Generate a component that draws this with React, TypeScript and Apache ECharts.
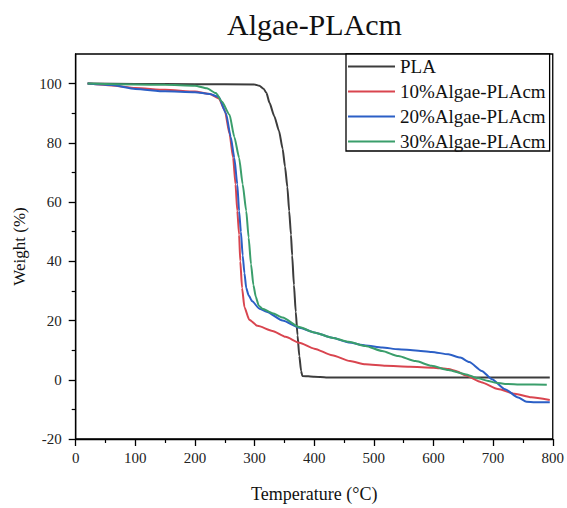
import React, { useEffect, useRef } from 'react';
import * as echarts from 'echarts';

const chartTitle = 'Algae-PLAcm';
const xAxisName = 'Temperature (°C)';
const yAxisName = 'Weight (%)';
const seriesNames = ['PLA', '10%Algae-PLAcm', '20%Algae-PLAcm', '30%Algae-PLAcm'];
const seriesColors = ['#3c3c3c', '#d9454f', '#2b5fc6', '#3a9e6b'];

// [temperature °C, weight %]
const plaData = [
  [20, 100], [100, 99.9], [200, 99.8], [300, 99.7], [308, 99.3], [315, 98.3], [320, 96.8],
  [325, 93.5], [333, 89], [341, 84], [347, 78], [351, 72], [355, 65], [358, 57], [361, 49],
  [363, 42], [366, 32], [369, 23], [372, 15], [375, 8], [378, 3], [380, 1.3], [400, 1.0],
  [420, 0.8], [600, 0.8], [795, 0.8],
];
const pla10Data = [
  [20, 100], [60, 99.4], [100, 98.5], [150, 97.9], [200, 97.3], [225, 96.5], [240, 95],
  [250, 91], [258, 83], [264, 75], [268, 66], [271, 57], [274, 49], [276, 40], [279, 31],
  [283, 24.5], [291, 20.3], [305, 18.2], [330, 16.5], [352, 14.5], [375, 12.5], [400, 10.5],
  [430, 8.3], [460, 6.3], [486, 5.2], [520, 4.7], [560, 4.4], [600, 4.1], [625, 3.6],
  [640, 2.8], [653, 1.5], [680, -0.8], [708, -3.1], [736, -4.7], [764, -5.9], [795, -6.8],
];
const pla20Data = [
  [20, 100], [60, 99.5], [100, 98.2], [150, 97.4], [200, 97.1], [225, 96.5], [240, 95.5],
  [252, 90], [260, 82], [266, 75], [271, 66], [274, 57], [277, 50], [280, 42], [283, 36],
  [286, 31], [290, 28.5], [296, 26.5], [308, 24], [320, 23], [347, 20], [375, 17.6],
  [400, 16], [430, 14.2], [458, 12.6], [486, 11.6], [514, 10.9], [541, 10.3], [570, 9.9],
  [597, 9.4], [625, 8.6], [645, 7.5], [660, 6], [681, 3], [698, 0.2], [720, -3.2],
  [742, -6], [756, -7.4], [770, -7.6], [795, -7.6],
];
const pla30Data = [
  [20, 100], [100, 99.7], [150, 99.6], [200, 99.3], [220, 98.4], [235, 96.8], [245, 94],
  [258, 89.5], [266, 82], [274, 75], [280, 66], [286, 57], [290, 48], [294, 39], [298, 32],
  [302, 28], [307, 25], [313, 24], [330, 22.5], [347, 21], [375, 17.8], [400, 16],
  [430, 14.2], [458, 12.8], [486, 11.4], [514, 9.7], [541, 8], [570, 6.3], [597, 4.7],
  [625, 3.3], [653, 1.9], [675, 0.5], [692, -0.4], [705, -1], [720, -1.4], [750, -1.6],
  [790, -1.7],
];
const allData = [plaData, pla10Data, pla20Data, pla30Data];

const xMin = 0;
const xMax = 800;
const xInterval = 100;
const yMin = -20;
const yMax = 110;
const yMajorValues = [-20, 0, 20, 40, 60, 80, 100];
const yMinorValues = [-10, 10, 30, 50, 70, 90];

const FONT = "'Liberation Serif', 'Times New Roman', serif";

export default function App() {
  const ref = useRef<HTMLDivElement>(null);
  useEffect(() => {
    if (!ref.current) return;
    const chart = echarts.init(ref.current, null, { renderer: 'svg' });
    const axisLine = { show: true, onZero: false, lineStyle: { color: '#000', width: 1.3 } };
    chart.setOption({
      animation: false,
      backgroundColor: '#fff',
      textStyle: { fontFamily: FONT, color: '#000' },
      title: {
        text: chartTitle,
        left: 222,
        top: 4,
        textStyle: { fontFamily: FONT, fontSize: 30, fontWeight: 'normal', color: '#111' },
      },
      grid: {
        left: 75.7,
        right: 12.3,
        top: 54,
        bottom: 68,
        show: true,
        borderColor: '#000',
        borderWidth: 1.3,
        backgroundColor: 'transparent',
      },
      legend: {
        orient: 'vertical',
        left: 346,
        top: 54,
        data: seriesNames.map((n, i) => ({
          name: n,
          icon: 'path://M0,0 L47,0 L47,2 L0,2 Z',
          itemStyle: { color: seriesColors[i] },
        })),
        itemWidth: 47,
        itemHeight: 2,
        itemGap: 6,
        padding: [3, 4, 0, 2],
        borderColor: '#000',
        borderWidth: 1.3,
        backgroundColor: '#fff',
        textStyle: { fontFamily: FONT, fontSize: 19, color: '#111', lineHeight: 19 },
      },
      xAxis: {
        type: 'value',
        min: xMin,
        max: xMax,
        interval: xInterval,
        name: xAxisName,
        nameLocation: 'middle',
        nameGap: 46,
        nameTextStyle: { fontFamily: FONT, fontSize: 18, color: '#111' },
        axisLine,
        axisTick: { show: true, inside: false, length: 7, lineStyle: { color: '#000', width: 1.3 } },
        minorTick: { show: true, splitNumber: 2, length: 4, lineStyle: { color: '#000', width: 1.2 } },
        axisLabel: { fontFamily: FONT, fontSize: 15, color: '#222', margin: 11 },
        splitLine: { show: false },
        minorSplitLine: { show: false },
      },
      yAxis: [
        {
          type: 'value',
          position: 'left',
          min: yMin,
          max: yMax,
          interval: 20,
          name: yAxisName,
          nameLocation: 'middle',
          nameGap: 41,
          nameTextStyle: { fontFamily: FONT, fontSize: 17, color: '#111' },
          axisLine,
          axisTick: {
            show: true,
            length: 7,
            customValues: yMajorValues,
            lineStyle: { color: '#000', width: 1.3 },
          },
          axisLabel: {
            fontFamily: FONT,
            fontSize: 15,
            color: '#222',
            margin: 14,
            customValues: yMajorValues,
          },
          splitLine: { show: false },
        },
        {
          type: 'value',
          position: 'left',
          min: yMin,
          max: yMax,
          interval: 10,
          axisLine: { show: false, onZero: false },
          axisTick: {
            show: true,
            length: 4,
            customValues: yMinorValues,
            lineStyle: { color: '#000', width: 1.2 },
          },
          axisLabel: { show: false },
          splitLine: { show: false },
        },
      ],
      series: allData.map((d, i) => ({
        name: seriesNames[i],
        type: 'line',
        data: d,
        yAxisIndex: 0,
        symbol: 'none',
        showSymbol: false,
        smooth: 0.2,
        smoothMonotone: 'x',
        lineStyle: { color: seriesColors[i], width: 2 },
        itemStyle: { color: seriesColors[i] },
      })),
    });
    return () => chart.dispose();
  }, []);
  return (
    <div
      ref={ref}
      style={{ position: 'fixed', left: 0, top: 0, width: 567, height: 508, background: '#fff' }}
    />
  );
}
